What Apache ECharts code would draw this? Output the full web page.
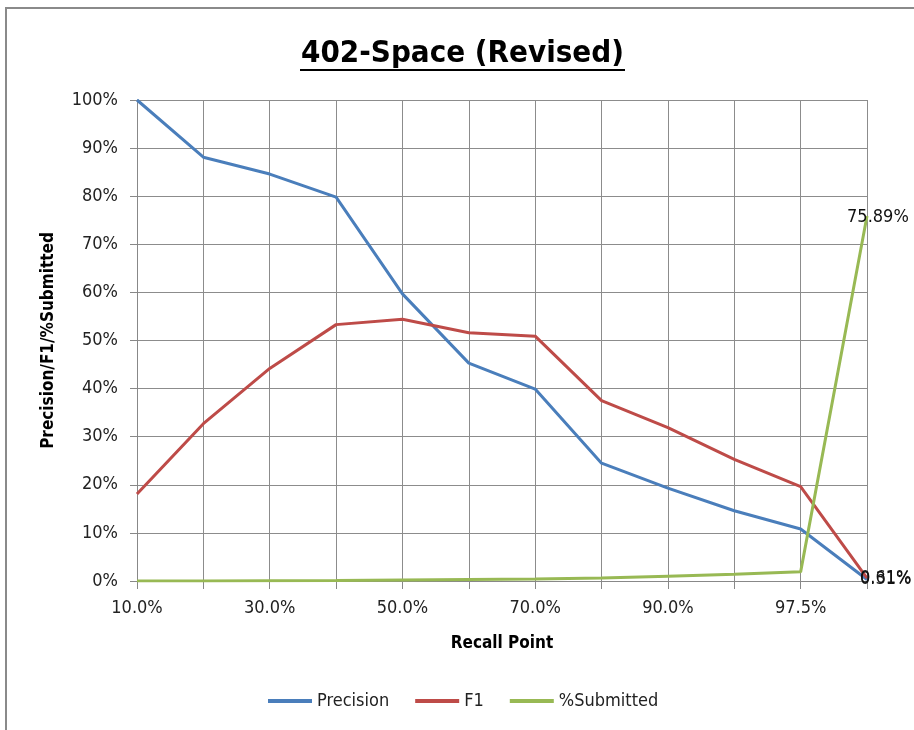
<!DOCTYPE html>
<html><head><meta charset="utf-8">
<script src="https://cdn.jsdelivr.net/npm/echarts@6/dist/echarts.min.js"></script>
<style>html,body{margin:0;padding:0;background:#fff}#c{width:914px;height:730px}</style>
</head><body><div id="c"></div>
<script>
const categories = ['10.0%','20.0%','30.0%','40.0%','50.0%','60.0%','70.0%','80.0%','90.0%','95.0%','97.5%','99.0%'];
const precision = [100, 88.1, 84.6, 79.8, 59.7, 45.3, 39.9, 24.5, 19.3, 14.6, 10.8, 0.31];
const f1 = [18.1, 32.7, 44.2, 53.3, 54.4, 51.6, 50.9, 37.5, 31.9, 25.3, 19.6, 0.61];
const submitted = [0.0, 0.0, 0.05, 0.1, 0.2, 0.3, 0.4, 0.6, 1.0, 1.4, 1.9, 75.89];
const yTicks = { min: 0, max: 100, interval: 10 };

const FONT = "'Liberation Sans Narrow','DejaVu Sans Condensed',sans-serif";
function withLastLabel(arr, labelOpt) {
  return arr.map((v, i) => i === arr.length - 1 ? { value: v, label: Object.assign({ show: true }, labelOpt) } : v);
}
const chart = echarts.init(document.getElementById('c'), null, { renderer: 'canvas' });
const lbl = { formatter: p => p.value.toFixed(2) + '%', color: '#111', fontFamily: FONT, fontSize: 18 };
const lineCommon = { showSymbol: true, symbol: 'circle', symbolSize: 0.1 };
chart.setOption({
  animation: false,
  title: { text: '402-Space (Revised)', left: 296, top: 33,
    textStyle: { fontFamily: FONT, fontWeight: 'bold', fontSize: 31, color: '#000' } },
  graphic: [
    { type: 'rect', shape: { x: 6, y: 8, width: 930, height: 760 }, style: { fill: 'none', stroke: '#8a8a8a', lineWidth: 2 }, silent: true },
    { type: 'line', shape: { x1: 300, y1: 70, x2: 625, y2: 70 }, style: { stroke: '#000', lineWidth: 2 }, silent: true }
  ],
  legend: { bottom: 15, left: 263, itemWidth: 44, itemHeight: 4, itemGap: 26, icon: 'rect',
    textStyle: { fontFamily: FONT, fontSize: 18, color: '#222' },
    data: ['Precision', 'F1', '%Submitted'] },
  grid: { left: 137, right: 47, top: 100, bottom: 149 },
  xAxis: { type: 'category', data: categories, boundaryGap: false,
    name: 'Recall Point', nameLocation: 'middle', nameGap: 54,
    nameTextStyle: { fontFamily: FONT, fontWeight: 'bold', fontSize: 17, color: '#000' },
    axisLine: { lineStyle: { color: '#888', width: 1 } },
    axisTick: { show: true, interval: 0, length: 8, lineStyle: { color: '#888' } },
    axisLabel: { interval: 1, fontFamily: FONT, fontSize: 18, color: '#222', margin: 18 },
    splitLine: { show: true, interval: 0, lineStyle: { color: '#8c8c8c', width: 1 } } },
  yAxis: { type: 'value', min: yTicks.min, max: yTicks.max, interval: yTicks.interval,
    name: 'Precision/F1/%Submitted', nameLocation: 'middle', nameGap: 80, nameRotate: 90,
    nameTextStyle: { fontFamily: FONT, fontWeight: 'bold', fontSize: 17, color: '#000' },
    axisLine: { show: true, lineStyle: { color: '#888', width: 1 } },
    axisTick: { show: true, length: 7, lineStyle: { color: '#888' } },
    axisLabel: { formatter: '{value}%', fontFamily: FONT, fontSize: 18, color: '#222', margin: 19 },
    splitLine: { show: true, lineStyle: { color: '#8c8c8c', width: 1 } } },
  series: [
    Object.assign({ name: 'Precision', type: 'line', data: withLastLabel(precision, Object.assign({ position: 'right', offset: [-12, 0] }, lbl)),
      lineStyle: { width: 3, color: '#4A7EBB' }, itemStyle: { color: '#4A7EBB' } }, lineCommon),
    Object.assign({ name: 'F1', type: 'line', data: withLastLabel(f1, Object.assign({ position: 'right', offset: [-12, 0] }, lbl)),
      lineStyle: { width: 3, color: '#BE4B48' }, itemStyle: { color: '#BE4B48' } }, lineCommon),
    Object.assign({ name: '%Submitted', type: 'line', data: withLastLabel(submitted, Object.assign({ position: 'right', offset: [-25, 1] }, lbl)),
      lineStyle: { width: 3, color: '#98B954' }, itemStyle: { color: '#98B954' } }, lineCommon)
  ]
});
</script></body></html>
